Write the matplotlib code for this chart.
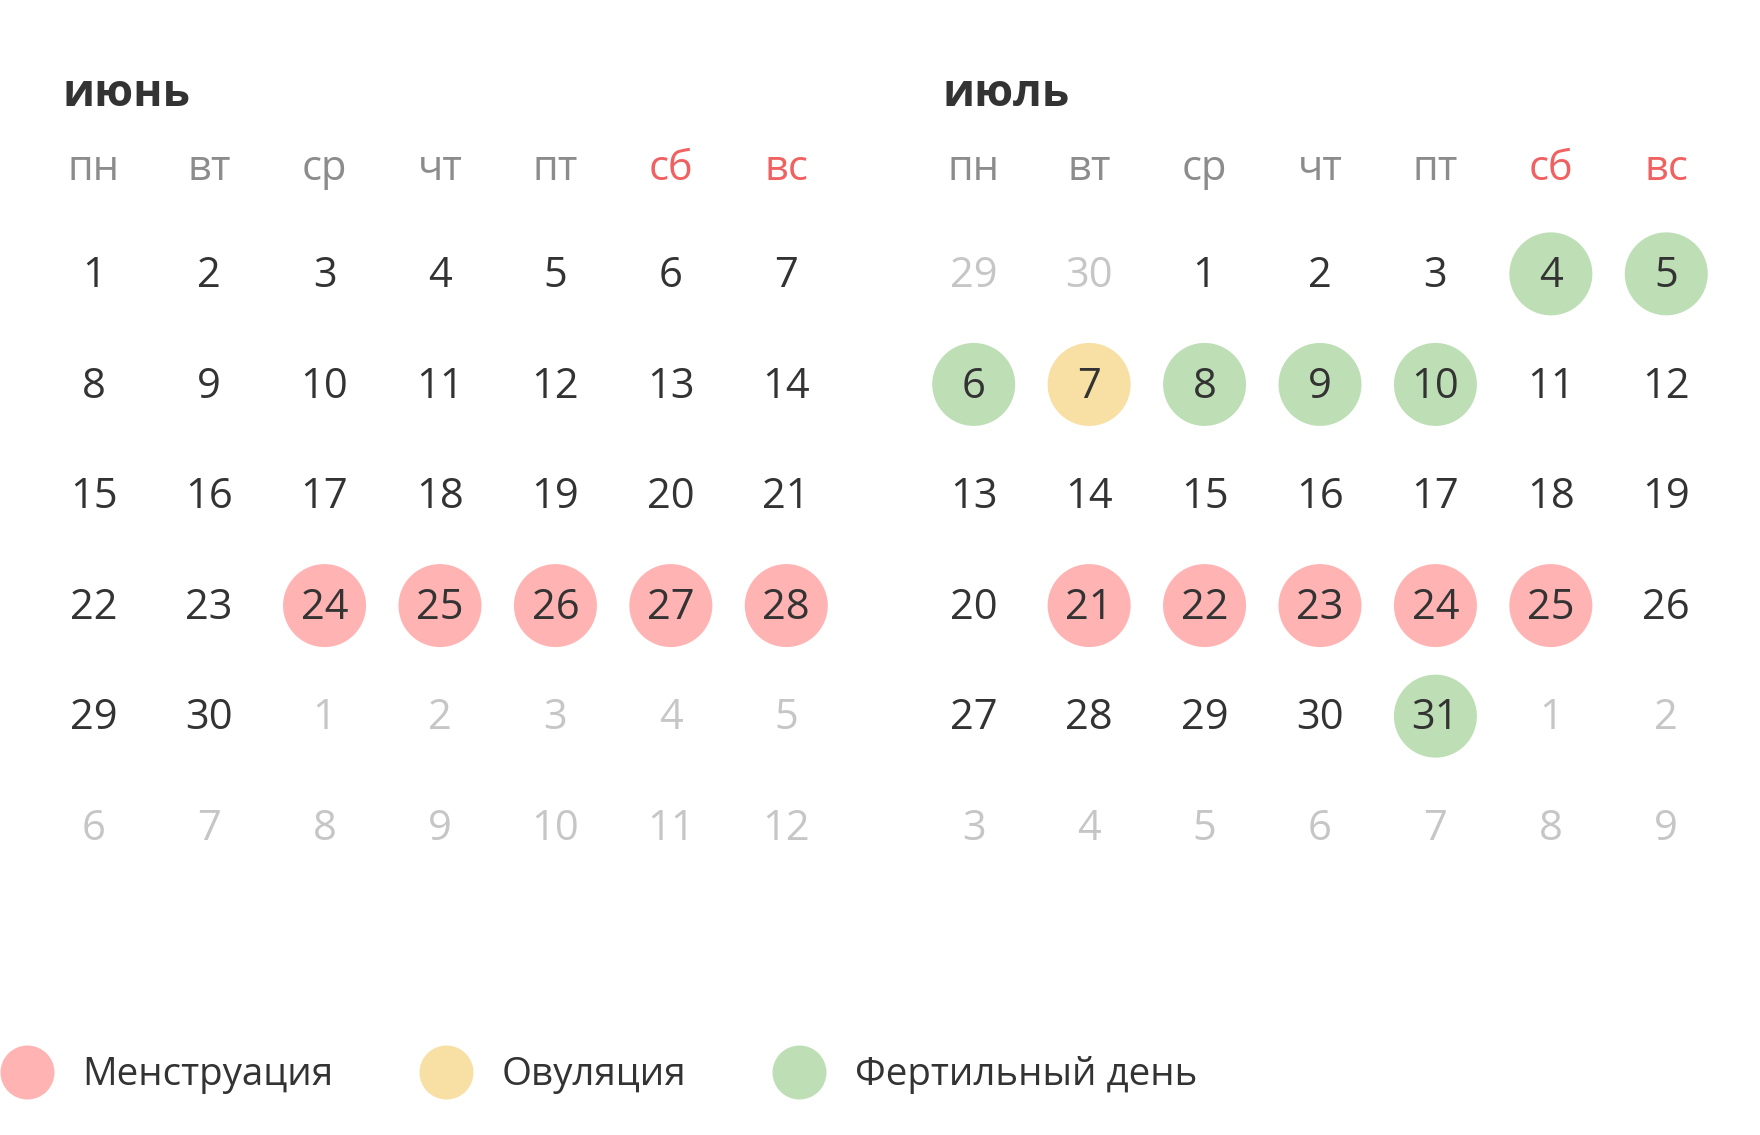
import numpy as np
import matplotlib
matplotlib.use('Agg')
import matplotlib.pyplot as plt
from matplotlib.lines import Line2D

plt.rcParams['font.family'] = ['Open Sans', 'DejaVu Sans']

#weekday headers
weekdays = ['пн', 'вт', 'ср', 'чт', 'пт', 'сб', 'вс']
weekend = [5, 6]

#june grid (6 weeks), days outside month are faded
june_title = 'июнь'
june_days = [[1, 2, 3, 4, 5, 6, 7],
             [8, 9, 10, 11, 12, 13, 14],
             [15, 16, 17, 18, 19, 20, 21],
             [22, 23, 24, 25, 26, 27, 28],
             [29, 30, 1, 2, 3, 4, 5],
             [6, 7, 8, 9, 10, 11, 12]]
june_in = [[1, 1, 1, 1, 1, 1, 1],
           [1, 1, 1, 1, 1, 1, 1],
           [1, 1, 1, 1, 1, 1, 1],
           [1, 1, 1, 1, 1, 1, 1],
           [1, 1, 0, 0, 0, 0, 0],
           [0, 0, 0, 0, 0, 0, 0]]
june_mens = [24, 25, 26, 27, 28]
june_ovul = []
june_fert = []

#july grid
july_title = 'июль'
july_days = [[29, 30, 1, 2, 3, 4, 5],
             [6, 7, 8, 9, 10, 11, 12],
             [13, 14, 15, 16, 17, 18, 19],
             [20, 21, 22, 23, 24, 25, 26],
             [27, 28, 29, 30, 31, 1, 2],
             [3, 4, 5, 6, 7, 8, 9]]
july_in = [[0, 0, 1, 1, 1, 1, 1],
           [1, 1, 1, 1, 1, 1, 1],
           [1, 1, 1, 1, 1, 1, 1],
           [1, 1, 1, 1, 1, 1, 1],
           [1, 1, 1, 1, 1, 0, 0],
           [0, 0, 0, 0, 0, 0, 0]]
july_mens = [21, 22, 23, 24, 25]
july_ovul = [7]
july_fert = [4, 5, 6, 8, 9, 10, 31]

legend_labels = ['Менструация', 'Овуляция', 'Фертильный день']

c_mens = '#ffb3b3'
c_ovul = '#f8dfa4'
c_fert = '#bedfb6'
c_dark = '#333333'
c_grey = '#8c8c8c'
c_red = '#f06262'
c_faded = '#c6c6c6'

W, H = 1760, 1135
fig = plt.figure(figsize=(W/100, H/100), dpi=100)

#circle diameter in points (83 px at 100 dpi)
circ = 83*0.72


def draw_month(left, title, days, inmonth, mens, ovul, fert):
    #axes in pixels: column step ~115.5, row step ~110.5
    ax = fig.add_axes([left/W, 1-882/H, 808/W, 774/H])
    ax.set_xlim(-0.5, 6.5)
    ax.set_ylim(5.5, -1.5)
    ax.axis('off')
    days = np.array(days)
    inmonth = np.array(inmonth)
    for colr, sel in [(c_mens, mens), (c_ovul, ovul), (c_fert, fert)]:
        r, c = np.where(np.isin(days, sel) & (inmonth == 1))
        ax.scatter(c, r, s=circ**2, color=colr, edgecolors='none', zorder=1)
    for r in range(days.shape[0]):
        for c in range(days.shape[1]):
            col = c_dark if inmonth[r, c] else c_faded
            ax.text(c, r+0.02, str(days[r, c]), ha='center', va='center',
                    fontsize=30, color=col, zorder=2)
    for c, wd in enumerate(weekdays):
        col = c_red if c in weekend else c_grey
        ax.text(c, -0.95, wd, ha='center', va='center', fontsize=30, color=col)
    ax.text(-0.27, -1.52, title, ha='left', va='baseline', fontsize=32,
            fontweight='bold', color=c_dark, clip_on=False)
    return ax


draw_month(36, june_title, june_days, june_in, june_mens, june_ovul, june_fert)
draw_month(916, july_title, july_days, july_in, july_mens, july_ovul, july_fert)

handles = [Line2D([], [], marker='o', linestyle='none', markersize=54*0.72,
                  markerfacecolor=c, markeredgecolor='none')
           for c in [c_mens, c_ovul, c_fert]]
fig.legend(handles, legend_labels, loc='center left',
           bbox_to_anchor=(0, 1-1075/H), ncol=3, frameon=False,
           fontsize=27.7, labelcolor=c_dark, handlelength=1.40,
           handletextpad=0.75, columnspacing=2.22, borderpad=0,
           borderaxespad=0)

plt.savefig('out.png', dpi=100, facecolor='white')
